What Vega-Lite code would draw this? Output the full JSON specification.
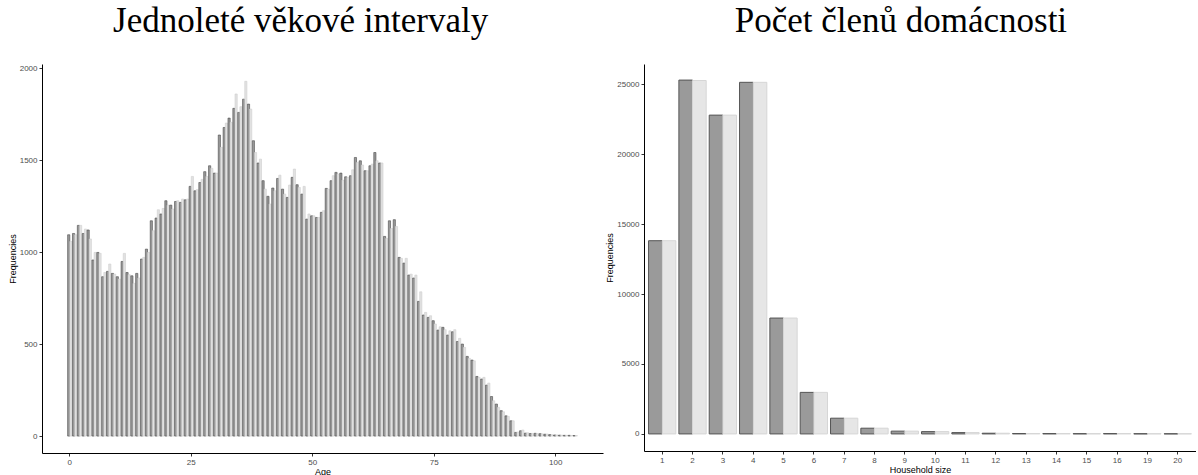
{
  "$schema": "https://vega.github.io/schema/vega-lite/v6.json",
  "padding": {"left": 8, "top": 4, "right": 0, "bottom": 0},
  "spacing": 2,
  "config": {
    "view": {"stroke": null},
    "axis": {
      "grid": false,
      "domainColor": "#000000",
      "domainWidth": 1,
      "tickColor": "#333333",
      "tickSize": 3,
      "tickWidth": 1,
      "labelColor": "#4d4d4d",
      "labelFont": "Liberation Sans",
      "labelFontSize": 8,
      "labelPadding": 2,
      "titleFont": "Liberation Sans",
      "titleFontSize": 9,
      "titleFontWeight": "normal",
      "titleColor": "#000000",
      "titlePadding": 2
    },
    "axisX": {"titlePadding": 1},
    "title": {
      "font": "Liberation Serif",
      "fontSize": 35,
      "fontWeight": "normal",
      "color": "#000000",
      "anchor": "middle",
      "frame": "bounds",
      "offset": 25
    }
  },
  "datasets": {
    "age": [
      {"age": 0, "sample": "original", "freq": 1094}, {"age": 0, "sample": "synthetic", "freq": 1058},
      {"age": 1, "sample": "original", "freq": 1101}, {"age": 1, "sample": "synthetic", "freq": 1094},
      {"age": 2, "sample": "original", "freq": 1145}, {"age": 2, "sample": "synthetic", "freq": 1145},
      {"age": 3, "sample": "original", "freq": 1101}, {"age": 3, "sample": "synthetic", "freq": 1125},
      {"age": 4, "sample": "original", "freq": 1120}, {"age": 4, "sample": "synthetic", "freq": 1071},
      {"age": 5, "sample": "original", "freq": 957}, {"age": 5, "sample": "synthetic", "freq": 998},
      {"age": 6, "sample": "original", "freq": 998}, {"age": 6, "sample": "synthetic", "freq": 993},
      {"age": 7, "sample": "original", "freq": 866}, {"age": 7, "sample": "synthetic", "freq": 889},
      {"age": 8, "sample": "original", "freq": 895}, {"age": 8, "sample": "synthetic", "freq": 935},
      {"age": 9, "sample": "original", "freq": 884}, {"age": 9, "sample": "synthetic", "freq": 880},
      {"age": 10, "sample": "original", "freq": 866}, {"age": 10, "sample": "synthetic", "freq": 853},
      {"age": 11, "sample": "original", "freq": 949}, {"age": 11, "sample": "synthetic", "freq": 993},
      {"age": 12, "sample": "original", "freq": 889}, {"age": 12, "sample": "synthetic", "freq": 877},
      {"age": 13, "sample": "original", "freq": 871}, {"age": 13, "sample": "synthetic", "freq": 830},
      {"age": 14, "sample": "original", "freq": 884}, {"age": 14, "sample": "synthetic", "freq": 859},
      {"age": 15, "sample": "original", "freq": 962}, {"age": 15, "sample": "synthetic", "freq": 971},
      {"age": 16, "sample": "original", "freq": 1016}, {"age": 16, "sample": "synthetic", "freq": 998},
      {"age": 17, "sample": "original", "freq": 1170}, {"age": 17, "sample": "synthetic", "freq": 1116},
      {"age": 18, "sample": "original", "freq": 1185}, {"age": 18, "sample": "synthetic", "freq": 1230},
      {"age": 19, "sample": "original", "freq": 1207}, {"age": 19, "sample": "synthetic", "freq": 1237},
      {"age": 20, "sample": "original", "freq": 1279}, {"age": 20, "sample": "synthetic", "freq": 1255},
      {"age": 21, "sample": "original", "freq": 1255}, {"age": 21, "sample": "synthetic", "freq": 1234},
      {"age": 22, "sample": "original", "freq": 1275}, {"age": 22, "sample": "synthetic", "freq": 1279},
      {"age": 23, "sample": "original", "freq": 1270}, {"age": 23, "sample": "synthetic", "freq": 1288},
      {"age": 24, "sample": "original", "freq": 1284}, {"age": 24, "sample": "synthetic", "freq": 1288},
      {"age": 25, "sample": "original", "freq": 1357}, {"age": 25, "sample": "synthetic", "freq": 1411},
      {"age": 26, "sample": "original", "freq": 1333}, {"age": 26, "sample": "synthetic", "freq": 1339},
      {"age": 27, "sample": "original", "freq": 1378}, {"age": 27, "sample": "synthetic", "freq": 1395},
      {"age": 28, "sample": "original", "freq": 1437}, {"age": 28, "sample": "synthetic", "freq": 1411},
      {"age": 29, "sample": "original", "freq": 1469}, {"age": 29, "sample": "synthetic", "freq": 1455},
      {"age": 30, "sample": "original", "freq": 1429}, {"age": 30, "sample": "synthetic", "freq": 1429},
      {"age": 31, "sample": "original", "freq": 1636}, {"age": 31, "sample": "synthetic", "freq": 1569},
      {"age": 32, "sample": "original", "freq": 1677}, {"age": 32, "sample": "synthetic", "freq": 1701},
      {"age": 33, "sample": "original", "freq": 1728}, {"age": 33, "sample": "synthetic", "freq": 1705},
      {"age": 34, "sample": "original", "freq": 1781}, {"age": 34, "sample": "synthetic", "freq": 1859},
      {"age": 35, "sample": "original", "freq": 1759}, {"age": 35, "sample": "synthetic", "freq": 1790},
      {"age": 36, "sample": "original", "freq": 1831}, {"age": 36, "sample": "synthetic", "freq": 1928},
      {"age": 37, "sample": "original", "freq": 1804}, {"age": 37, "sample": "synthetic", "freq": 1777},
      {"age": 38, "sample": "original", "freq": 1605}, {"age": 38, "sample": "synthetic", "freq": 1541},
      {"age": 39, "sample": "original", "freq": 1484}, {"age": 39, "sample": "synthetic", "freq": 1505},
      {"age": 40, "sample": "original", "freq": 1388}, {"age": 40, "sample": "synthetic", "freq": 1342},
      {"age": 41, "sample": "original", "freq": 1303}, {"age": 41, "sample": "synthetic", "freq": 1261},
      {"age": 42, "sample": "original", "freq": 1348}, {"age": 42, "sample": "synthetic", "freq": 1333},
      {"age": 43, "sample": "original", "freq": 1400}, {"age": 43, "sample": "synthetic", "freq": 1418},
      {"age": 44, "sample": "original", "freq": 1342}, {"age": 44, "sample": "synthetic", "freq": 1315},
      {"age": 45, "sample": "original", "freq": 1297}, {"age": 45, "sample": "synthetic", "freq": 1364},
      {"age": 46, "sample": "original", "freq": 1406}, {"age": 46, "sample": "synthetic", "freq": 1451},
      {"age": 47, "sample": "original", "freq": 1366}, {"age": 47, "sample": "synthetic", "freq": 1351},
      {"age": 48, "sample": "original", "freq": 1315}, {"age": 48, "sample": "synthetic", "freq": 1357},
      {"age": 49, "sample": "original", "freq": 1179}, {"age": 49, "sample": "synthetic", "freq": 1207},
      {"age": 50, "sample": "original", "freq": 1197}, {"age": 50, "sample": "synthetic", "freq": 1197},
      {"age": 51, "sample": "original", "freq": 1188}, {"age": 51, "sample": "synthetic", "freq": 1188},
      {"age": 52, "sample": "original", "freq": 1216}, {"age": 52, "sample": "synthetic", "freq": 1225},
      {"age": 53, "sample": "original", "freq": 1346}, {"age": 53, "sample": "synthetic", "freq": 1342},
      {"age": 54, "sample": "original", "freq": 1388}, {"age": 54, "sample": "synthetic", "freq": 1415},
      {"age": 55, "sample": "original", "freq": 1433}, {"age": 55, "sample": "synthetic", "freq": 1424},
      {"age": 56, "sample": "original", "freq": 1429}, {"age": 56, "sample": "synthetic", "freq": 1391},
      {"age": 57, "sample": "original", "freq": 1409}, {"age": 57, "sample": "synthetic", "freq": 1406},
      {"age": 58, "sample": "original", "freq": 1415}, {"age": 58, "sample": "synthetic", "freq": 1447},
      {"age": 59, "sample": "original", "freq": 1514}, {"age": 59, "sample": "synthetic", "freq": 1487},
      {"age": 60, "sample": "original", "freq": 1496}, {"age": 60, "sample": "synthetic", "freq": 1473},
      {"age": 61, "sample": "original", "freq": 1442}, {"age": 61, "sample": "synthetic", "freq": 1442},
      {"age": 62, "sample": "original", "freq": 1469}, {"age": 62, "sample": "synthetic", "freq": 1478},
      {"age": 63, "sample": "original", "freq": 1541}, {"age": 63, "sample": "synthetic", "freq": 1496},
      {"age": 64, "sample": "original", "freq": 1484}, {"age": 64, "sample": "synthetic", "freq": 1484},
      {"age": 65, "sample": "original", "freq": 1085}, {"age": 65, "sample": "synthetic", "freq": 1074},
      {"age": 66, "sample": "original", "freq": 1170}, {"age": 66, "sample": "synthetic", "freq": 1128},
      {"age": 67, "sample": "original", "freq": 1176}, {"age": 67, "sample": "synthetic", "freq": 1139},
      {"age": 68, "sample": "original", "freq": 971}, {"age": 68, "sample": "synthetic", "freq": 966},
      {"age": 69, "sample": "original", "freq": 940}, {"age": 69, "sample": "synthetic", "freq": 966},
      {"age": 70, "sample": "original", "freq": 875}, {"age": 70, "sample": "synthetic", "freq": 880},
      {"age": 71, "sample": "original", "freq": 859}, {"age": 71, "sample": "synthetic", "freq": 875},
      {"age": 72, "sample": "original", "freq": 732}, {"age": 72, "sample": "synthetic", "freq": 784},
      {"age": 73, "sample": "original", "freq": 658}, {"age": 73, "sample": "synthetic", "freq": 672},
      {"age": 74, "sample": "original", "freq": 645}, {"age": 74, "sample": "synthetic", "freq": 654},
      {"age": 75, "sample": "original", "freq": 627}, {"age": 75, "sample": "synthetic", "freq": 609},
      {"age": 76, "sample": "original", "freq": 576}, {"age": 76, "sample": "synthetic", "freq": 594},
      {"age": 77, "sample": "original", "freq": 591}, {"age": 77, "sample": "synthetic", "freq": 578},
      {"age": 78, "sample": "original", "freq": 549}, {"age": 78, "sample": "synthetic", "freq": 572},
      {"age": 79, "sample": "original", "freq": 567}, {"age": 79, "sample": "synthetic", "freq": 578},
      {"age": 80, "sample": "original", "freq": 514}, {"age": 80, "sample": "synthetic", "freq": 531},
      {"age": 81, "sample": "original", "freq": 500}, {"age": 81, "sample": "synthetic", "freq": 482},
      {"age": 82, "sample": "original", "freq": 433}, {"age": 82, "sample": "synthetic", "freq": 422},
      {"age": 83, "sample": "original", "freq": 413}, {"age": 83, "sample": "synthetic", "freq": 409},
      {"age": 84, "sample": "original", "freq": 324}, {"age": 84, "sample": "synthetic", "freq": 319},
      {"age": 85, "sample": "original", "freq": 310}, {"age": 85, "sample": "synthetic", "freq": 319},
      {"age": 86, "sample": "original", "freq": 277}, {"age": 86, "sample": "synthetic", "freq": 288},
      {"age": 87, "sample": "original", "freq": 215}, {"age": 87, "sample": "synthetic", "freq": 192},
      {"age": 88, "sample": "original", "freq": 174}, {"age": 88, "sample": "synthetic", "freq": 156},
      {"age": 89, "sample": "original", "freq": 138}, {"age": 89, "sample": "synthetic", "freq": 132},
      {"age": 90, "sample": "original", "freq": 110}, {"age": 90, "sample": "synthetic", "freq": 107},
      {"age": 91, "sample": "original", "freq": 83}, {"age": 91, "sample": "synthetic", "freq": 83},
      {"age": 92, "sample": "original", "freq": 20}, {"age": 92, "sample": "synthetic", "freq": 22},
      {"age": 93, "sample": "original", "freq": 29}, {"age": 93, "sample": "synthetic", "freq": 33},
      {"age": 94, "sample": "original", "freq": 16}, {"age": 94, "sample": "synthetic", "freq": 18},
      {"age": 95, "sample": "original", "freq": 14}, {"age": 95, "sample": "synthetic", "freq": 14},
      {"age": 96, "sample": "original", "freq": 15}, {"age": 96, "sample": "synthetic", "freq": 14},
      {"age": 97, "sample": "original", "freq": 13}, {"age": 97, "sample": "synthetic", "freq": 12},
      {"age": 98, "sample": "original", "freq": 10}, {"age": 98, "sample": "synthetic", "freq": 11},
      {"age": 99, "sample": "original", "freq": 8}, {"age": 99, "sample": "synthetic", "freq": 7},
      {"age": 100, "sample": "original", "freq": 6}, {"age": 100, "sample": "synthetic", "freq": 6},
      {"age": 101, "sample": "original", "freq": 5}, {"age": 101, "sample": "synthetic", "freq": 5},
      {"age": 102, "sample": "original", "freq": 4}, {"age": 102, "sample": "synthetic", "freq": 4},
      {"age": 103, "sample": "original", "freq": 4}, {"age": 103, "sample": "synthetic", "freq": 3},
      {"age": 104, "sample": "original", "freq": 3}, {"age": 104, "sample": "synthetic", "freq": 3}
    ],
    "household": [
      {"size": 1, "sample": "original", "freq": 13815}, {"size": 1, "sample": "synthetic", "freq": 13815},
      {"size": 2, "sample": "original", "freq": 25300}, {"size": 2, "sample": "synthetic", "freq": 25270},
      {"size": 3, "sample": "original", "freq": 22795}, {"size": 3, "sample": "synthetic", "freq": 22795},
      {"size": 4, "sample": "original", "freq": 25140}, {"size": 4, "sample": "synthetic", "freq": 25140},
      {"size": 5, "sample": "original", "freq": 8285}, {"size": 5, "sample": "synthetic", "freq": 8285},
      {"size": 6, "sample": "original", "freq": 2970}, {"size": 6, "sample": "synthetic", "freq": 2970},
      {"size": 7, "sample": "original", "freq": 1125}, {"size": 7, "sample": "synthetic", "freq": 1125},
      {"size": 8, "sample": "original", "freq": 410}, {"size": 8, "sample": "synthetic", "freq": 410},
      {"size": 9, "sample": "original", "freq": 200}, {"size": 9, "sample": "synthetic", "freq": 200},
      {"size": 10, "sample": "original", "freq": 165}, {"size": 10, "sample": "synthetic", "freq": 165},
      {"size": 11, "sample": "original", "freq": 95}, {"size": 11, "sample": "synthetic", "freq": 95},
      {"size": 12, "sample": "original", "freq": 50}, {"size": 12, "sample": "synthetic", "freq": 50},
      {"size": 13, "sample": "original", "freq": 30}, {"size": 13, "sample": "synthetic", "freq": 30},
      {"size": 14, "sample": "original", "freq": 25}, {"size": 14, "sample": "synthetic", "freq": 25},
      {"size": 15, "sample": "original", "freq": 20}, {"size": 15, "sample": "synthetic", "freq": 20},
      {"size": 16, "sample": "original", "freq": 25}, {"size": 16, "sample": "synthetic", "freq": 25},
      {"size": 19, "sample": "original", "freq": 15}, {"size": 19, "sample": "synthetic", "freq": 15},
      {"size": 20, "sample": "original", "freq": 12}, {"size": 20, "sample": "synthetic", "freq": 12}
    ]
  },
  "hconcat": [
    {
      "title": {"text": "Jednoleté věkové intervaly", "dx": -5},
      "data": {"name": "age"},
      "width": 561,
      "height": 389,
      "mark": {"type": "bar", "strokeWidth": 0.6},
      "encoding": {
        "x": {
          "field": "age", "type": "ordinal",
          "scale": {
            "domain": [-5, -4, -3, -2, -1, 0, 1, 2, 3, 4, 5, 6, 7, 8, 9, 10, 11, 12, 13, 14, 15, 16, 17, 18, 19, 20, 21, 22, 23, 24, 25, 26, 27, 28, 29, 30, 31, 32, 33, 34, 35, 36, 37, 38, 39, 40, 41, 42, 43, 44, 45, 46, 47, 48, 49, 50, 51, 52, 53, 54, 55, 56, 57, 58, 59, 60, 61, 62, 63, 64, 65, 66, 67, 68, 69, 70, 71, 72, 73, 74, 75, 76, 77, 78, 79, 80, 81, 82, 83, 84, 85, 86, 87, 88, 89, 90, 91, 92, 93, 94, 95, 96, 97, 98, 99, 100, 101, 102, 103, 104, 105, 106, 107, 108, 109],
            "paddingInner": 0.1, "paddingOuter": 0.27
          },
          "axis": {"title": "Age", "values": [0, 25, 50, 75, 100], "labelAngle": 0}
        },
        "xOffset": {"field": "sample", "type": "nominal", "sort": ["original", "synthetic"]},
        "y": {
          "field": "freq", "type": "quantitative",
          "scale": {"domain": [-92, 2022], "nice": false, "zero": false},
          "axis": {"title": "Frequencies", "values": [0, 500, 1000, 1500, 2000], "format": "d"}
        },
        "fill": {
          "field": "sample", "type": "nominal",
          "scale": {"domain": ["original", "synthetic"], "range": ["#9a9a9a", "#e2e2e2"]},
          "legend": null
        },
        "stroke": {
          "field": "sample", "type": "nominal",
          "scale": {"domain": ["original", "synthetic"], "range": ["#4a4a4a", "#cfcfcf"]},
          "legend": null
        }
      }
    },
    {
      "title": {"text": "Počet členů domácnosti"},
      "data": {"name": "household"},
      "width": 552,
      "height": 387,
      "mark": {"type": "bar", "strokeWidth": 1},
      "encoding": {
        "x": {
          "field": "size", "type": "ordinal",
          "scale": {"paddingInner": 0.1, "paddingOuter": 0.15},
          "axis": {"title": "Household size", "labelAngle": 0}
        },
        "xOffset": {"field": "sample", "type": "nominal", "sort": ["original", "synthetic"]},
        "y": {
          "field": "freq", "type": "quantitative",
          "scale": {"domain": [-1221, 26450], "nice": false, "zero": false},
          "axis": {"title": "Frequencies", "values": [0, 5000, 10000, 15000, 20000, 25000], "format": "d"}
        },
        "fill": {
          "field": "sample", "type": "nominal",
          "scale": {"domain": ["original", "synthetic"], "range": ["#9a9a9a", "#e6e6e6"]},
          "legend": null
        },
        "stroke": {
          "field": "sample", "type": "nominal",
          "scale": {"domain": ["original", "synthetic"], "range": ["#555555", "#d6d6d6"]},
          "legend": null
        }
      }
    }
  ],
  "resolve": {"scale": {"xOffset": "independent", "fill": "independent", "stroke": "independent"}}
}
